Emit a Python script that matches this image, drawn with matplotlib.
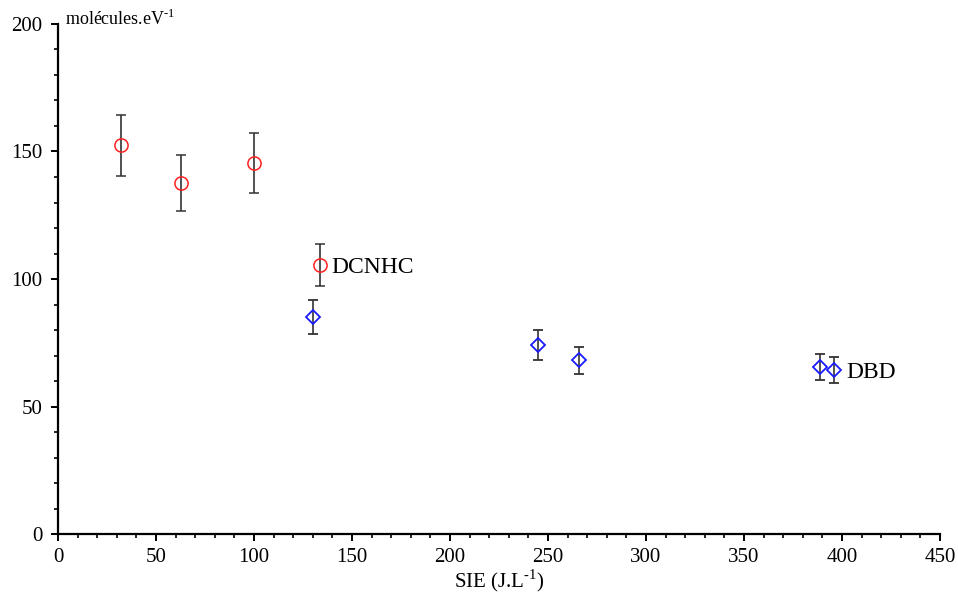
import matplotlib
matplotlib.use("Agg")
import matplotlib.pyplot as plt
from matplotlib.ticker import MultipleLocator

plt.rcParams["font.family"] = ["Liberation Serif", "DejaVu Serif"]
plt.rcParams["axes.unicode_minus"] = False

# DCNHC series (red circles)
dcnhc_x = [32, 63, 100, 133.5]
dcnhc_y = [152.5, 137.5, 145.5, 105.5]
dcnhc_err = [12.0, 11.0, 11.8, 8.4]

# DBD series (blue diamonds)
dbd_x = [130, 245, 266, 389, 396]
dbd_y = [85.0, 74.0, 68.2, 65.5, 64.3]
dbd_err = [6.7, 5.9, 5.3, 5.1, 5.1]

fig = plt.figure(figsize=(9.58, 5.94), dpi=100)
ax = fig.add_axes([0.0605, 0.101, 0.9207, 0.8586])

err_style = dict(ecolor="#333333", elinewidth=1.2, capsize=3.5, capthick=1.2, linestyle="none")
ax.errorbar(dcnhc_x, dcnhc_y, yerr=dcnhc_err, marker="o", markersize=9.5,
            markerfacecolor="none", markeredgecolor="#ff2020", markeredgewidth=1.1, **err_style)
ax.errorbar(dbd_x, dbd_y, yerr=dbd_err, marker="D", markersize=7,
            markerfacecolor="none", markeredgecolor="#1a1aff", markeredgewidth=1.3, **err_style)

ax.text(dcnhc_x[-1] + 6, dcnhc_y[-1], "DCNHC", fontsize=17, va="center_baseline", ha="left")
ax.text(dbd_x[-1] + 6, dbd_y[-1], "DBD", fontsize=17, va="center_baseline", ha="left")

ax.set_xlim(0, 450)
ax.set_ylim(0, 200)
ax.xaxis.set_major_locator(MultipleLocator(50))
ax.xaxis.set_minor_locator(MultipleLocator(10))
ax.yaxis.set_major_locator(MultipleLocator(50))
ax.yaxis.set_minor_locator(MultipleLocator(10))

for side in ("top", "right"):
    ax.spines[side].set_visible(False)
for side in ("left", "bottom"):
    ax.spines[side].set_linewidth(1.6)
ax.tick_params(which="major", direction="out", length=5, width=1.4, labelsize=15)
ax.tick_params(axis="x", which="major", pad=5)
ax.tick_params(axis="y", which="major", pad=6)
ax.tick_params(which="minor", direction="out", length=3, width=1.2)

# superscripts use a hyphen (U+2010) rather than a math minus, as in the original
ax.set_xlabel("SIE (J.L$^{\\mathregular{\u20101}}$)", fontsize=15, labelpad=0)
fig.text(0.068, 0.958, "molécules.eV$^{\\mathregular{\u20101}}$", fontsize=13, va="baseline", ha="left")

fig.savefig("out.png", dpi=100)
